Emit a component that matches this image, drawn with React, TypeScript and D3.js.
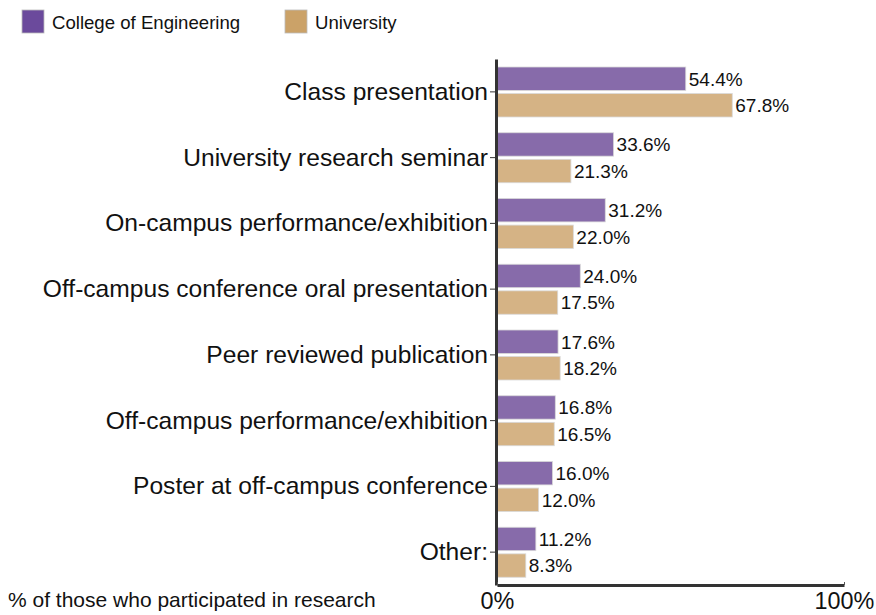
import { useEffect, useRef } from "react"
import * as d3 from "d3"

const categories = [
  "Class presentation",
  "University research seminar",
  "On-campus performance/exhibition",
  "Off-campus conference oral presentation",
  "Peer reviewed publication",
  "Off-campus performance/exhibition",
  "Poster at off-campus conference",
  "Other:",
]
const engineering = [54.4, 33.6, 31.2, 24.0, 17.6, 16.8, 16.0, 11.2]
const university = [67.8, 21.3, 22.0, 17.5, 18.2, 16.5, 12.0, 8.3]
const seriesNames = ["College of Engineering", "University"]
const barColors = ["#876BAA", "#D5B385"]
const legendColors = ["#6B4A9C", "#CBA268"]
const xTicks = [0, 100]

export default function App() {
  const ref = useRef<SVGSVGElement>(null)

  useEffect(() => {
    const svg = d3.select(ref.current)
    svg.selectAll("*").remove()
    const font = "Liberation Sans, Arial, sans-serif"

    const x = d3.scaleLinear().domain([0, 100]).range([497, 844])
    const y = d3.scaleBand().domain(categories).range([59, 585])
    const inner = d3.scaleBand().domain(seriesNames).range([8, 58]).paddingInner(0.12)

    // bars
    const rows = categories.map((c, i) => ({ c, vals: [engineering[i], university[i]] }))
    const g = svg.append("g")
    rows.forEach((r) => {
      r.vals.forEach((v, k) => {
        const yy = (y(r.c) as number) + (inner(seriesNames[k]) as number)
        g.append("rect")
          .attr("x", x(0))
          .attr("y", yy)
          .attr("width", x(v) - x(0))
          .attr("height", inner.bandwidth())
          .attr("fill", barColors[k])
          .attr("stroke", "#d9d9d9")
          .attr("stroke-width", 0.8)
        g.append("text")
          .attr("x", x(v) + 3)
          .attr("y", yy + inner.bandwidth() / 2)
          .attr("dy", "0.36em")
          .style("font-family", font)
          .style("font-size", "19px")
          .attr("fill", "#111")
          .text(v.toFixed(1) + "%")
      })
    })

    // y axis
    const ya = svg.append("g").attr("transform", `translate(496,0)`)
      .call(d3.axisLeft(y).tickSize(6).tickSizeOuter(0).tickPadding(2))
    ya.select(".domain").attr("stroke", "#333").attr("stroke-width", 3)
    ya.selectAll(".tick line").attr("stroke", "#333")
    ya.selectAll(".tick text")
      .style("font-family", font)
      .style("font-size", "24.6px")
      .attr("fill", "#111")

    // x axis
    const xa = svg.append("g").attr("transform", `translate(0,585)`)
      .call(d3.axisBottom(x).tickValues(xTicks).tickFormat((d) => `${d}%`).tickSize(-3).tickSizeOuter(0).tickPadding(7))
    xa.select(".domain").attr("stroke", "#333").attr("stroke-width", 3)
    xa.selectAll(".tick line").attr("stroke", "#555")
    xa.selectAll(".tick text")
      .style("font-family", font)
      .style("font-size", "23.4px")
      .attr("fill", "#111")

    svg.append("text")
      .attr("x", 8)
      .attr("y", 607)
      .style("font-family", font)
      .style("font-size", "21px")
      .attr("fill", "#111")
      .text("% of those who participated in research")

    // legend
    const legendX = [22, 285]
    seriesNames.forEach((s, k) => {
      svg.append("rect")
        .attr("x", legendX[k])
        .attr("y", 10)
        .attr("width", 22)
        .attr("height", 23)
        .attr("fill", legendColors[k])
        .attr("stroke", "#bbb")
        .attr("stroke-width", 0.8)
      svg.append("text")
        .attr("x", legendX[k] + 30)
        .attr("y", 22)
        .attr("dy", "0.36em")
        .style("font-family", font)
        .style("font-size", "18.6px")
        .attr("fill", "#111")
        .text(s)
    })
  }, [])

  return (
    <svg ref={ref} width={876} height={615}
      style={{ position: "absolute", left: 0, top: 0, background: "#fff" }} />
  )
}
